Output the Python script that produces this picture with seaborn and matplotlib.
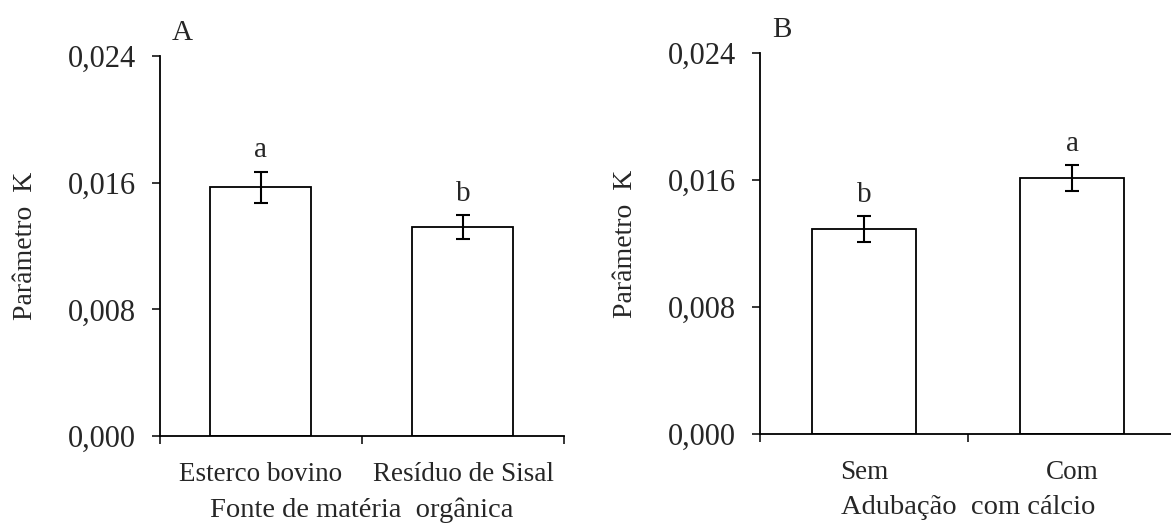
import matplotlib
matplotlib.use("Agg")
import matplotlib.pyplot as plt
import seaborn as sns
import pandas as pd
import numpy as np
from matplotlib.ticker import FixedLocator, FuncFormatter

# ---- data ----
cat_a = ["Esterco bovino", "Resíduo de Sisal"]
val_a = [0.0157, 0.0132]
err_a = [0.0010, 0.00075]
let_a = ["a", "b"]

cat_b = ["Sem", "Com"]
val_b = [0.0129, 0.0161]
err_b = [0.00082, 0.00082]
let_b = ["b", "a"]

yticks = [0.000, 0.008, 0.016, 0.024]
ylabel = "Parâmetro  K"
xlabel_a = "Fonte de matéria  orgânica"
xlabel_b = "Adubação  com cálcio"

sns.set_theme(style="white")
plt.rcParams["font.family"] = ["Liberation Serif", "DejaVu Serif"]

FS = 21
fig = plt.figure(figsize=(11.71, 5.26), dpi=100)
axA = fig.add_axes([0.1366, 0.1711, 0.345, 0.7224])
axB = fig.add_axes([0.649, 0.1749, 0.3553, 0.7243])


def panel(ax, cats, vals, errs, lets, xlabel, tag):
    df = pd.DataFrame({"cat": cats, "val": vals})
    sns.barplot(data=df, x="cat", y="val", ax=ax, width=0.5, color="white",
                edgecolor="black", linewidth=1.3, errorbar=None, saturation=1)
    pos = np.arange(len(cats))
    ax.errorbar(pos, vals, yerr=errs, fmt="none", ecolor="black",
                elinewidth=1.5, capsize=5, capthick=1.5)
    for p, v, e, l in zip(pos, vals, errs, lets):
        ax.annotate(l, (p, v + e), xytext=(0, 6), textcoords="offset points",
                    ha="center", va="bottom", fontsize=FS)
    ax.set_xlim(-0.5, len(cats) - 0.5)
    ax.set_ylim(0, 0.024)
    ax.yaxis.set_major_locator(FixedLocator(yticks))
    ax.yaxis.set_major_formatter(FuncFormatter(lambda v, p: f"{v:.3f}".replace(".", ",")))
    ax.xaxis.set_minor_locator(FixedLocator([-0.5, 0.5, len(cats) - 0.5]))
    ax.tick_params(axis="x", which="major", length=0, pad=19, labelsize=19.5)
    ax.tick_params(axis="x", which="minor", length=6, width=1.3, direction="out", bottom=True)
    ax.tick_params(axis="y", which="major", length=6, width=1.3, direction="out",
                   left=True, pad=11, labelsize=22)
    for s in ["top", "right"]:
        ax.spines[s].set_visible(False)
    for s in ["left", "bottom"]:
        ax.spines[s].set_linewidth(1.3)
        ax.spines[s].set_color("black")
    ax.set_ylabel(ylabel, fontsize=20, labelpad=22)
    ax.set_xlabel(xlabel, fontsize=20.5, labelpad=7)
    ax.text(0.03, 1.06, tag, transform=ax.transAxes, fontsize=FS, ha="left", va="center")


panel(axA, cat_a, val_a, err_a, let_a, xlabel_a, "A")
panel(axB, cat_b, val_b, err_b, let_b, xlabel_b, "B")

fig.savefig("out.png", dpi=100)
